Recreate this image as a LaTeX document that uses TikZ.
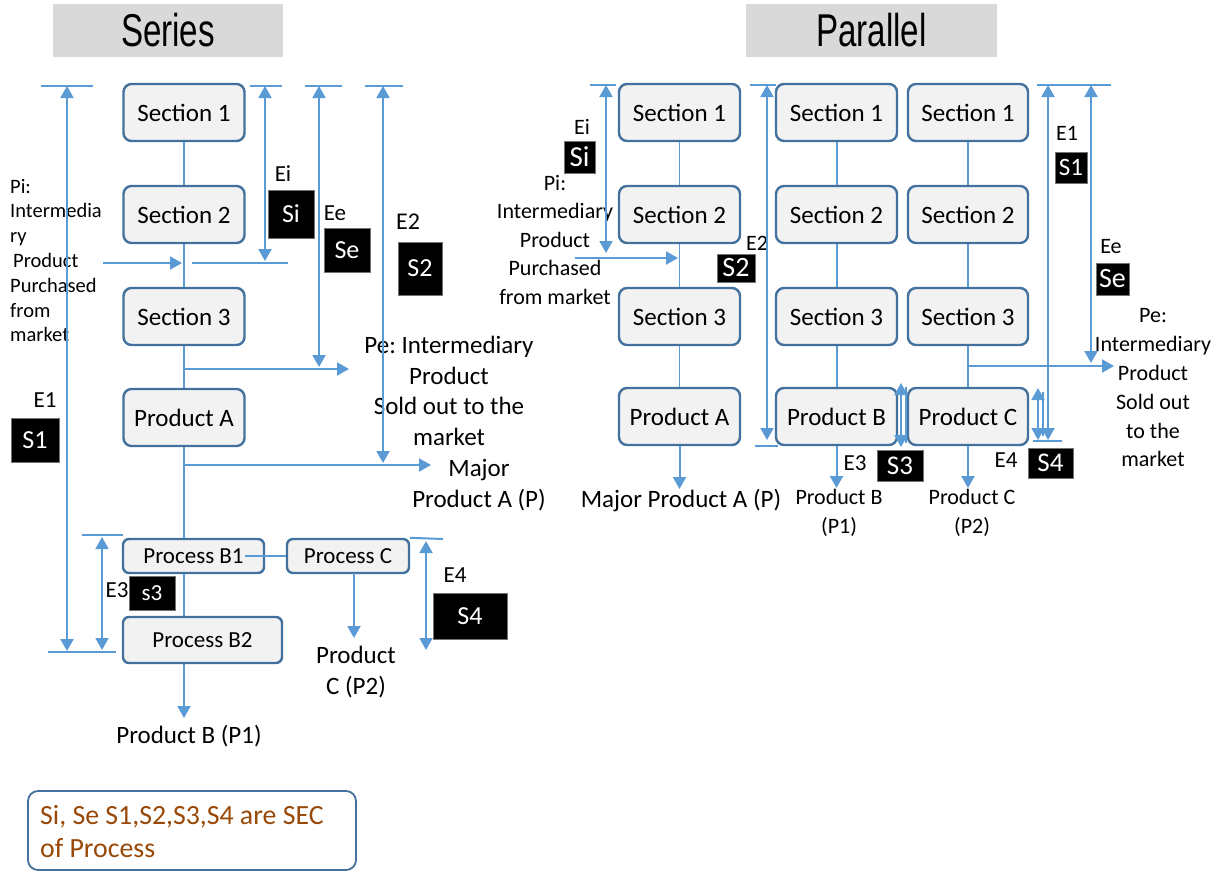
\documentclass[tikz,border=0pt]{standalone}
\usepackage{fontspec}
\usepackage{graphicx}
\setmainfont{Carlito}
\newfontfamily\titlefont{Liberation Sans}
\usetikzlibrary{arrows.meta}
\definecolor{lineblue}{HTML}{5B9BD5}
\definecolor{boxblue}{HTML}{41719C}
\definecolor{boxfill}{HTML}{F2F2F2}
\definecolor{titlegray}{HTML}{D9D9D9}
\definecolor{legendbrown}{HTML}{984807}
\frenchspacing
\begin{document}
\begin{tikzpicture}[x=1pt,y=-1pt,
  sec/.style={draw=boxblue, line width=2.4pt, fill=boxfill, rounded corners=8pt, minimum width=121pt, minimum height=57pt, inner sep=0pt, font=\fontsize{25}{30}\selectfont},
  procbox/.style={draw=boxblue, line width=2.4pt, fill=boxfill, rounded corners=6pt, inner sep=0pt, font=\fontsize{23}{28}\selectfont},
  blk/.style={fill=black, draw=black!55, line width=0.8pt, text=white, inner sep=0pt, font=\fontsize{26}{30}\selectfont},
  lbl/.style={inner sep=0pt, font=\fontsize{23}{28}\selectfont},
  txt/.style={inner sep=0pt, align=center, font=\fontsize{25}{30.5}\selectfont},
  ptxt/.style={inner sep=0pt, align=center, font=\fontsize{22}{28.8}\selectfont},
  conn/.style={draw=lineblue, line width=2pt},
  arr/.style={conn, -{Triangle[length=12pt,width=13pt]}},
  dim/.style={conn, {Triangle[length=12pt,width=13pt]}-{Triangle[length=12pt,width=13pt]}},
  titlebox/.style={fill=titlegray, minimum height=53pt, inner sep=0pt, font=\titlefont\fontsize{46}{50}\selectfont}
]
\useasboundingbox (0,0) rectangle (1222,871);

% ---------- titles ----------
\node[titlebox, minimum width=230pt] (tSeries) at (168,30.5) {\scalebox{0.72}[1]{Series}};
\node[titlebox, minimum width=251pt] (tParallel) at (871.5,30.5) {\scalebox{0.72}[1]{Parallel}};

% ================= SERIES =================
\node[sec] (sS1) at (184,112.5) {Section 1};
\node[sec] (sS2) at (184,214.5) {Section 2};
\node[sec] (sS3) at (184,316.5) {Section 3};
\node[sec] (sPA) at (184,417.5) {Product A};
\node[procbox, minimum width=141pt, minimum height=34pt] (sB1) at (193.5,556) {Process B1};
\node[procbox, minimum width=122pt, minimum height=34pt] (sPC) at (348,556) {Process C};
\node[procbox, minimum width=159pt, minimum height=46pt] (sB2) at (202.5,640) {Process B2};

\draw[conn] (sS1) -- (sS2);
\draw[conn] (sS2) -- (sS3);
\draw[conn] (sS3) -- (sPA);
\draw[conn] (sPA.south) -- (sPA.south |- sB1.north);
\draw[conn] (sPA.south |- sB1.south) -- (sPA.south |- sB2.north);
\coordinate (sPBend) at (184,718);
\draw[arr] (sPA.south |- sB2.south) -- (sPBend);
\coordinate (sB1line) at (245,556);
\draw[draw=lineblue, line width=1.2pt] (sB1line) -- (sPC.west);
\coordinate (sPCs) at (354,573);
\coordinate (sPCe) at (354,638);
\draw[arr] (sPCs) -- (sPCe);

% texts
\node[inner sep=0pt, align=left, anchor=west, font=\fontsize{20.5}{24.8}\selectfont] (sPiTxt) at (10,260.5)
  {Pi:\\Intermedia\\ry\\\hspace{3pt}Product\\Purchased\\from\\market};
\node[txt] (sPeTxt) at (449,391) {Pe: Intermediary\\Product\\Sold out to the\\market};
\node[txt] (sMajTxt) at (479,485) {Major\\Product A (P)};
\node[txt] (sPBTxt) at (189,736) {Product B (P1)};
\node[txt] (sPCTxt) at (356,672) {Product\\C (P2)};

\node[lbl] (sEi) at (283,174) {Ei};
\node[blk, minimum width=46pt, minimum height=48pt] (sSi) at (291,214) {Si};
\node[lbl] (sEe) at (335,213) {Ee};
\node[blk, minimum width=46pt, minimum height=44pt] (sSe) at (347,250) {Se};
\node[lbl, font=\fontsize{24}{28}\selectfont] (sE2) at (408,222) {E2};
\node[blk, minimum width=44pt, minimum height=53pt] (sS2b) at (420,268.5) {S2};
\node[lbl] (sE1) at (45,400) {E1};
\node[blk, minimum width=48pt, minimum height=44pt] (sS1b) at (35,440) {S1};
\node[lbl] (sE3) at (117,590) {E3};
\node[blk, minimum width=46pt, minimum height=34pt, font=\fontsize{23}{28}\selectfont] (sS3b) at (152,593) {s3};
\node[lbl] (sE4) at (455,575) {E4};
\node[blk, minimum width=74pt, minimum height=46pt] (sS4b) at (470,616) {S4};

% branches
\coordinate (sPiS) at (103,263);
\coordinate (sPiE) at (182,263);
\draw[arr] (sPiS) -- (sPiE);
\coordinate (sPeS) at (184,369);
\coordinate (sPeE) at (349,369);
\draw[arr] (sPeS) -- (sPeE);
\coordinate (sMjS) at (184,465);
\coordinate (sMjE) at (431,465);
\draw[arr] (sMjS) -- (sMjE);

% dimension lines
\coordinate (sE1t) at (67,86);  \coordinate (sE1b) at (67,651);
\coordinate (sE1tl) at (41,86); \coordinate (sE1tr) at (93,86);
\coordinate (sBl) at (48,652);  \coordinate (sBr) at (116,652);
\draw[dim] (sE1t) -- (sE1b);
\draw[conn] (sE1tl) -- (sE1tr);
\draw[conn] (sBl) -- (sBr);

\coordinate (sEit) at (265,86); \coordinate (sEib) at (265,261);
\coordinate (sEitl) at (250,86); \coordinate (sEitr) at (282,86);
\coordinate (sEibl) at (192,263); \coordinate (sEibr) at (288,263);
\draw[dim] (sEit) -- (sEib);
\draw[conn] (sEitl) -- (sEitr);
\draw[conn] (sEibl) -- (sEibr);

\coordinate (sEet) at (319,86); \coordinate (sEeb) at (319,367);
\coordinate (sEetl) at (305,86); \coordinate (sEetr) at (342,86);
\draw[dim] (sEet) -- (sEeb);
\draw[conn] (sEetl) -- (sEetr);

\coordinate (sE2t) at (383,86); \coordinate (sE2b) at (383,463);
\coordinate (sE2tl) at (365,86); \coordinate (sE2tr) at (403,86);
\draw[dim] (sE2t) -- (sE2b);
\draw[conn] (sE2tl) -- (sE2tr);

\coordinate (sE3t) at (102,537); \coordinate (sE3b) at (102,650);
\coordinate (sE3tl) at (82,535); \coordinate (sE3tr) at (123,535);
\draw[dim] (sE3t) -- (sE3b);
\draw[conn] (sE3tl) -- (sE3tr);

\coordinate (sE4t) at (426,541); \coordinate (sE4b) at (426,650);
\coordinate (sE4tr) at (443,539);
\draw[dim] (sE4t) -- (sE4b);
\draw[conn] (sPC.north east) -- (sE4tr);

% legend
\node[draw=boxblue, line width=1.8pt, rounded corners=10pt, minimum width=328pt, minimum height=79pt, inner sep=0pt] (leg) at (192,830.5) {};
\node[inner sep=0pt, align=left, anchor=west, text=legendbrown, font=\fontsize{27.8}{33}\selectfont] (legTxt) at (40,831.5)
  {Si, Se S1,S2,S3,S4 are SEC\\of Process};

% ================= PARALLEL =================
\node[sec] (pA1) at (679.5,112.5) {Section 1};
\node[sec] (pA2) at (679.5,214.5) {Section 2};
\node[sec] (pA3) at (679.5,316.5) {Section 3};
\node[sec] (pA4) at (679.5,416.5) {Product A};
\node[sec] (pB1) at (836.5,112.5) {Section 1};
\node[sec] (pB2) at (836.5,214.5) {Section 2};
\node[sec] (pB3) at (836.5,316.5) {Section 3};
\node[sec] (pB4) at (836.5,416.5) {Product B};
\node[sec, minimum width=120pt] (pC1) at (968,112.5) {Section 1};
\node[sec, minimum width=120pt] (pC2) at (968,214.5) {Section 2};
\node[sec, minimum width=120pt] (pC3) at (968,316.5) {Section 3};
\node[sec, minimum width=120pt] (pC4) at (968,416.5) {Product C};

\draw[conn, line width=1.6pt] (pA1) -- (pA2);
\draw[conn, line width=1.6pt] (pA2) -- (pA3);
\draw[conn, line width=1.6pt] (pA3) -- (pA4);
\draw[conn] (pB1) -- (pB2);
\draw[conn] (pB2) -- (pB3);
\draw[conn] (pB3) -- (pB4);
\draw[conn] (pC1) -- (pC2);
\draw[conn] (pC2) -- (pC3);
\draw[conn] (pC3) -- (pC4);
\coordinate (pAend) at (679.5,489);
\coordinate (pBend) at (836.5,488);
\coordinate (pCend) at (968,488);
\draw[arr] (pA4) -- (pAend);
\draw[arr] (pB4) -- (pBend);
\draw[arr] (pC4) -- (pCend);

% texts
\node[txt] (pMajTxt) at (681,500) {Major Product A (P)};
\node[ptxt] (pPBTxt) at (839,512.5) {Product B\\(P1)};
\node[ptxt] (pPCTxt) at (972,512.5) {Product C\\(P2)};
\node[ptxt, font=\fontsize{22}{28.5}\selectfont] (pPiTxt) at (555,240) {Pi:\\Intermediary\\Product\\Purchased\\from market};
\node[ptxt] (pPeTxt) at (1153,388) {Pe:\\Intermediary\\Product\\Sold out\\to the\\market};

\node[lbl, font=\fontsize{22}{26}\selectfont] (pEi) at (582,127) {Ei};
\node[blk, minimum width=31pt, minimum height=32pt, font=\fontsize{29}{32}\selectfont] (pSi) at (579.5,157) {Si};
\node[lbl, font=\fontsize{22}{26}\selectfont] (pE2) at (757,243) {E2};
\node[blk, minimum width=38pt, minimum height=28pt, font=\fontsize{28}{32}\selectfont] (pS2) at (736,268) {S2};
\node[lbl, font=\fontsize{22}{26}\selectfont] (pE1) at (1067,133) {E1};
\node[blk, minimum width=32pt, minimum height=31pt, font=\fontsize{25}{30}\selectfont] (pS1) at (1071,167.5) {S1};
\node[lbl, font=\fontsize{22}{26}\selectfont] (pEe) at (1111,247) {Ee};
\node[blk, minimum width=33pt, minimum height=32pt, font=\fontsize{28}{32}\selectfont] (pSe) at (1112.5,279) {Se};
\node[lbl] (pE3) at (855,463) {E3};
\node[blk, minimum width=46pt, minimum height=31pt, font=\fontsize{27}{30}\selectfont] (pS3) at (900,465.5) {S3};
\node[lbl] (pE4) at (1006,460) {E4};
\node[blk, minimum width=45pt, minimum height=30pt, font=\fontsize{27}{30}\selectfont] (pS4) at (1050.5,463) {S4};

% Pi / Pe arrows
\coordinate (pPiS) at (575,258);
\coordinate (pPiE) at (678,258);
\draw[arr] (pPiS) -- (pPiE);
\coordinate (pPeS) at (968,366);
\coordinate (pPeE) at (1114,366);
\draw[arr] (pPeS) -- (pPeE);

% dimension lines
\coordinate (pEit) at (606,85); \coordinate (pEib) at (606,253);
\coordinate (pEitl) at (590,85); \coordinate (pEitr) at (616,85);
\draw[dim] (pEit) -- (pEib);
\draw[conn] (pEitl) -- (pEitr);

\coordinate (pE2t) at (767,85); \coordinate (pE2b) at (767,440);
\coordinate (pE2tl) at (750,85); \coordinate (pE2tr) at (776,85);
\coordinate (pE2bl) at (755,446); \coordinate (pE2br) at (778,446);
\draw[dim] (pE2t) -- (pE2b);
\draw[conn] (pE2tl) -- (pE2tr);
\draw[conn] (pE2bl) -- (pE2br);

\coordinate (pE1t) at (1048,85); \coordinate (pE1b) at (1048,440);
\coordinate (pE1tl) at (1037,85); \coordinate (pE1tr) at (1111,85);
\coordinate (pE1bl) at (1033,441); \coordinate (pE1br) at (1062,441);
\draw[dim] (pE1t) -- (pE1b);
\draw[conn] (pE1tl) -- (pE1tr);
\draw[conn] (pE1bl) -- (pE1br);

\coordinate (pEet) at (1091,85); \coordinate (pEeb) at (1091,363);
\draw[dim] (pEet) -- (pEeb);

\coordinate (pE3t) at (901,383); \coordinate (pE3b) at (901,447);
\coordinate (pE3t2) at (906,387); \coordinate (pE3b2) at (906,443);
\draw[dim] (pE3t) -- (pE3b);
\draw[conn, line width=1.3pt] (pE3t2) -- (pE3b2);

\coordinate (pE4t) at (1038,388); \coordinate (pE4b) at (1038,440);
\coordinate (pE4t2) at (1043,392); \coordinate (pE4b2) at (1043,436);
\draw[dim] (pE4t) -- (pE4b);
\draw[conn, line width=1.3pt] (pE4t2) -- (pE4b2);

\end{tikzpicture}
\end{document}
